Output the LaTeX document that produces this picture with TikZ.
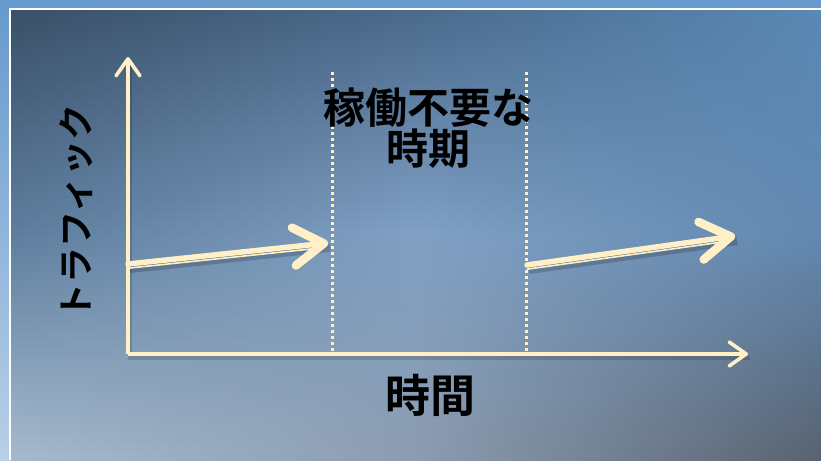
\documentclass[tikz,border=0pt]{standalone}
\usepackage{fontspec}
\newfontfamily\cjk{Noto Sans CJK JP Bold}
\usetikzlibrary{arrows.meta}
\definecolor{cream}{HTML}{FFF0C8}
\definecolor{frameT}{HTML}{6699CC}
\definecolor{frameB}{HTML}{B8D0E8}
\definecolor{cTL}{HTML}{3A5068}
\definecolor{cML}{HTML}{5E7E9E}
\definecolor{cBL}{HTML}{A6BACE}
\definecolor{cTC}{HTML}{4A6A8C}
\definecolor{cC}{HTML}{80A0C4}
\definecolor{cBC}{HTML}{8C9CB0}
\definecolor{cTR}{HTML}{5A88B4}
\definecolor{cMR}{HTML}{6288B0}
\definecolor{cBR}{HTML}{586270}
\tikzset{
  axisline/.style={draw=cream, line width=3.2pt, -{Straight Barb[length=17pt, width=24pt, line width=3.6pt, round]}},
  bigarrow/.style={draw=cream, line width=5.5pt, line cap=round,
    -{Straight Barb[length=30pt, width=38pt, line width=8.5pt, round]},
    preaction={draw=black, opacity=0.18, line width=8pt, -, transform canvas={shift={(2pt,-5pt)}}},
    preaction={draw=cream, line width=1.6pt, -, shorten >=16pt, transform canvas={yshift=-4.2pt}}},
  dotline/.style={draw=cream, line width=3pt, dash pattern=on 3pt off 3pt},
  label/.style={font=\cjk, text=black, inner sep=0pt},
}
\begin{document}
\begin{tikzpicture}[x=1pt, y=-1pt]
\useasboundingbox (0,0) rectangle (821,460);
% slide frame
\shade[top color=frameT, bottom color=frameB] (0,0) rectangle (821,460);
\fill[white] (9,8.5) rectangle (821,460);
% panel background: 3x3 colour blend in horizontal strips
\foreach \i in {0,...,59}{
  \pgfmathsetmacro{\ya}{11+\i*7.48333}
  \pgfmathsetmacro{\yb}{11+(\i+1)*7.48333+0.6}
  \pgfmathsetmacro{\t}{(\i+0.5)/60}
  \ifdim \t pt<0.5pt
    \pgfmathsetmacro{\p}{200*\t}
    \colorlet{Lc}{cML!\p!cTL}\colorlet{Mc}{cC!\p!cTC}\colorlet{Rc}{cMR!\p!cTR}
  \else
    \pgfmathsetmacro{\p}{200*\t-100}
    \colorlet{Lc}{cBL!\p!cML}\colorlet{Mc}{cBC!\p!cC}\colorlet{Rc}{cBR!\p!cMR}
  \fi
  \shade[left color=Lc, right color=Rc, middle color=Mc] (11,\ya) rectangle (821,\yb);
}

% coordinates
\coordinate (O) at (128,354);
\coordinate (ytip) at (128,57);
\coordinate (xtip) at (748,354);
\coordinate (d1t) at (332,72);
\coordinate (d1b) at (332,354);
\coordinate (d2t) at (526,72);
\coordinate (d2b) at (526,354);
\coordinate (a1s) at (128,264);
\coordinate (a1e) at (328,243);
\coordinate (a2s) at (527,265);
\coordinate (a2e) at (735,236);

% dotted separators
\draw[dotline] (d1t) -- (d1b);
\draw[dotline] (d2t) -- (d2b);

% axes
\draw[draw=black, opacity=0.15, line width=4pt, transform canvas={shift={(2pt,-4pt)}}] (ytip) -- (O) -- (xtip);
\draw[axisline] (O) -- (ytip);
\draw[axisline] (O) -- (xtip);

% traffic arrows
\draw[bigarrow] (a1s) -- (a1e);
\draw[bigarrow] (a2s) -- (a2e);

% labels
\node[label, align=center, font=\cjk\fontsize{42}{34}\selectfont] (title) at (428,128) {稼働不要な\\時期};
\node[label, font=\cjk\fontsize{45}{50}\selectfont] (xlab) at (430,395) {時間};
\node[label, rotate=90, font=\cjk\fontsize{36}{40}\selectfont] (ylab) at (76,212) {トラフィック};
\end{tikzpicture}
\end{document}
